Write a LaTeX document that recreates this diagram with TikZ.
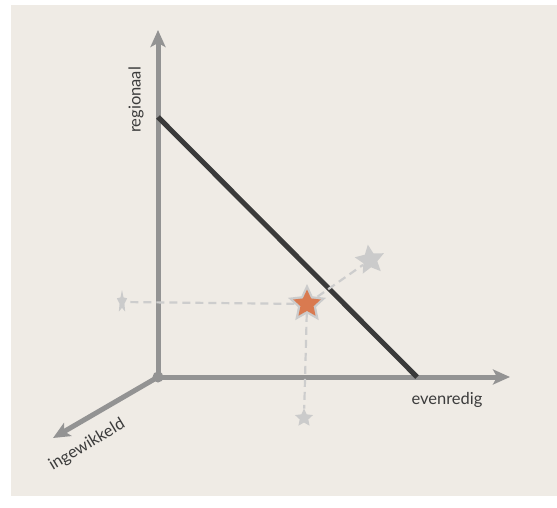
\documentclass[tikz,border=0pt]{standalone}
\usepackage{fontspec}
\setmainfont{Lato}
\usetikzlibrary{arrows.meta,shapes.geometric}

\definecolor{paper}{HTML}{EFEBE5}
\definecolor{axisgray}{HTML}{939393}
\definecolor{ridgegray}{HTML}{3A3A3A}
\definecolor{dashgray}{HTML}{CDCDCD}
\definecolor{stargray}{HTML}{CBCBCB}
\definecolor{starorange}{HTML}{D97A50}
\definecolor{labelgray}{HTML}{3C3C3C}

\begin{document}
\begin{tikzpicture}[x=1pt,y=-1pt,
  axis/.style={draw=axisgray, line width=5pt,
    -{Stealth[length=17pt,width=15pt,inset=4pt]}},
  ridge/.style={draw=ridgegray, line width=5pt},
  dashline/.style={draw=dashgray, line width=2.2pt, dash pattern=on 8pt off 5pt},
  starmark/.style={star, star points=5, star point ratio=2.1, inner sep=0pt,
    fill=stargray},
  axislabel/.style={text=labelgray, font=\fontsize{16.5}{18}\selectfont, inner sep=0pt}]
  \useasboundingbox (0,0) rectangle (557,508);
  \fill[white] (0,0) rectangle (557,508);
  \fill[paper] (11,5) rectangle (557,496);

  \coordinate (O) at (158,377);
  \coordinate (rtip) at (158,30);
  \coordinate (etip) at (510,377);
  \coordinate (itip) at (53,438);
  \coordinate (r) at (158,117);
  \coordinate (e) at (417,377);

  \draw[axis] (O) -- (rtip);
  \draw[axis] (O) -- (etip);
  \draw[axis] (O) -- (itip);
  \node[circle, fill=axisgray, minimum size=11pt, inner sep=0pt] (origin) at (O) {};
  \draw[ridge] (r) -- (e);

  \node[axislabel, rotate=90] (regionaal) at (136,100) {regionaal};
  \node[axislabel] (evenredig) at (447,400) {evenredig};
  \node[axislabel, rotate=31] (ingewikkeld) at (87,445) {ingewikkeld};

  \node[starmark, minimum size=31pt, rotate=8] (up) at (370,260) {};
  \node[starmark, minimum size=24pt, transform shape, xscale=0.45] (left) at (122,302) {};
  \node[starmark, minimum size=19pt] (down) at (304,418) {};
  \node[starmark, minimum size=40pt] (halo) at (307,304) {};
  \node[starmark, minimum size=29pt, fill=starorange] (now) at (307,304) {};

  \draw[dashline] (halo) -- (up);
  \draw[dashline] (halo) -- (left);
  \draw[dashline] (halo) -- (down);
\end{tikzpicture}
\end{document}
